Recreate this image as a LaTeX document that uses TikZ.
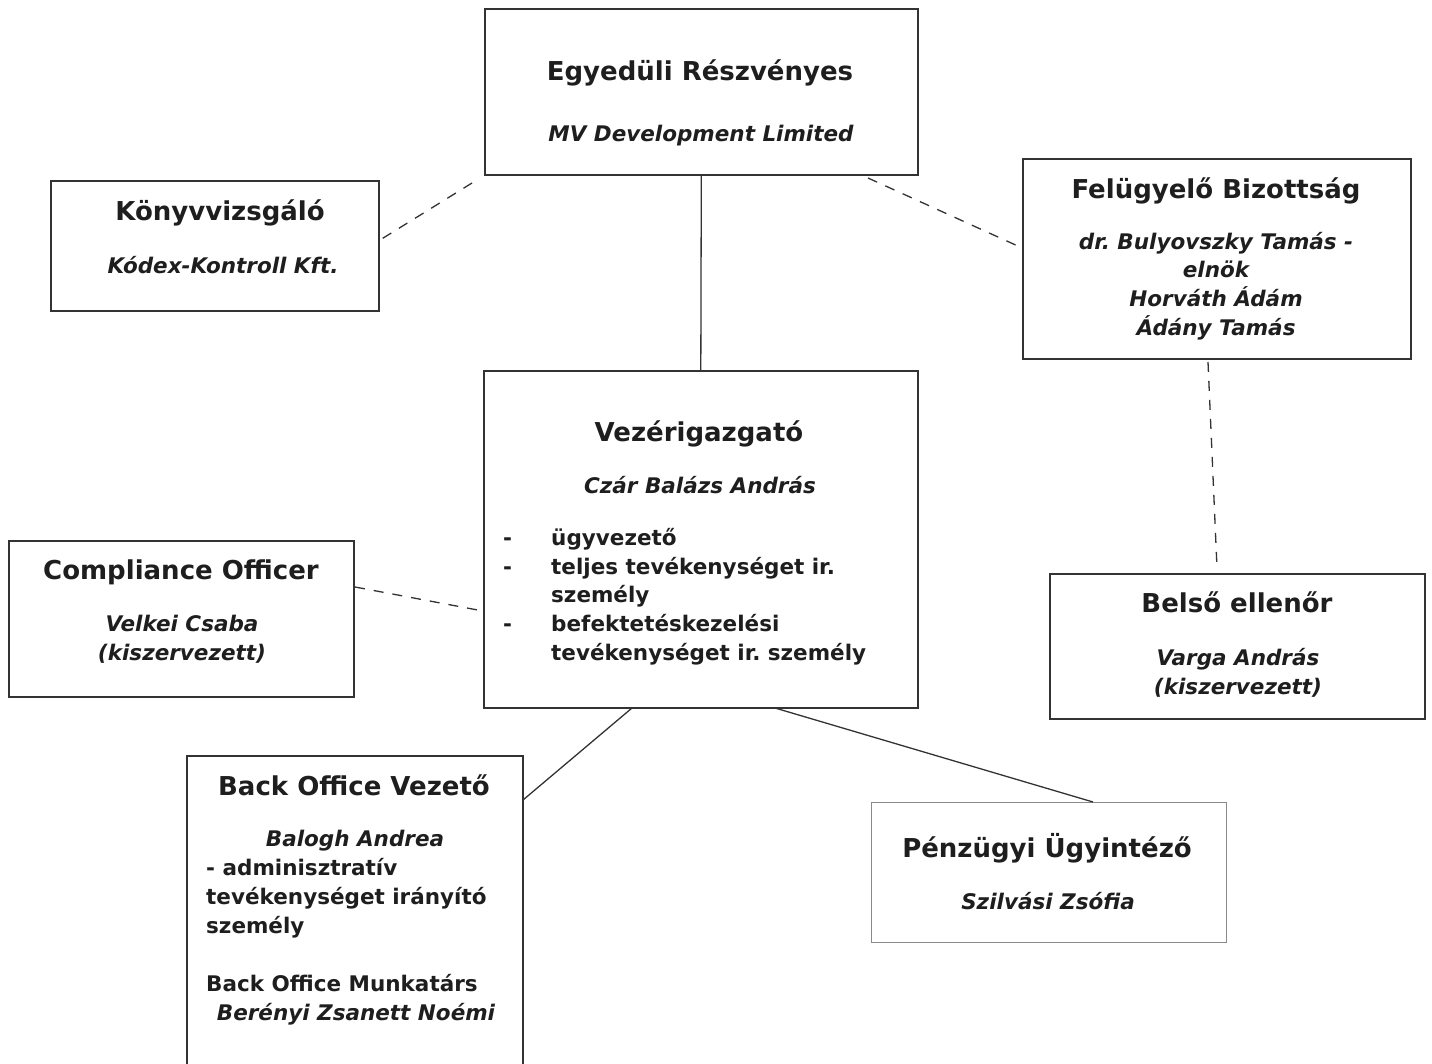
\documentclass[tikz,border=0pt]{standalone}
\usepackage{fontspec}
\setmainfont{DejaVu Sans}
\frenchspacing
\definecolor{ln}{HTML}{333333}
\definecolor{lnl}{HTML}{8A8A8A}
\definecolor{tx}{HTML}{1E1E1E}
\begin{document}
\begin{tikzpicture}[x=1pt,y=-1pt,
  box/.style={draw=ln, line width=1.6pt, inner sep=0pt, anchor=north west},
  hd/.style={font=\fontsize{26}{30}\selectfont\bfseries\frenchspacing, text=tx, inner sep=0pt, anchor=base},
  nm/.style={font=\fontsize{21.5}{29}\selectfont\bfseries\itshape\frenchspacing, text=tx, inner sep=0pt, anchor=base},
  bd/.style={font=\fontsize{21.5}{29}\selectfont\bfseries\frenchspacing, text=tx, inner sep=0pt, anchor=base west},
  link/.style={draw=ln, line width=1.3pt},
  dlink/.style={link, dash pattern=on 10pt off 9pt}]
\useasboundingbox (0,0) rectangle (1432,1064);
% boxes
\node[box, minimum width=433, minimum height=166] (top) at (484,8) {};
\node[box, minimum width=328, minimum height=130] (kv) at (50,180) {};
\node[box, minimum width=388, minimum height=200] (fb) at (1022,158) {};
\node[box, minimum width=434, minimum height=337] (vez) at (483,370) {};
\node[box, minimum width=345, minimum height=156] (co) at (8,540) {};
\node[box, minimum width=375, minimum height=145] (be) at (1049,573) {};
\node[box, minimum width=336, minimum height=315] (bo) at (186,755) {};
\node[box, draw=lnl, line width=1.3pt, minimum width=355, minimum height=140] (pu) at (871,802) {};
% top
\node[hd] (t1) at (700,81) {Egyedüli Részvényes};
\node[nm] (t2) at (701,142) {MV Development Limited};
% konyvvizsgalo
\node[hd] (k1) at (220,221) {Könyvvizsgáló};
\node[nm] (k2) at (223,274) {Kódex-Kontroll Kft.};
% felugyelo
\node[hd] (f1) at (1216,199) {Felügyelő Bizottság};
\node[nm] (f2) at (1216,250) {dr.\ Bulyovszky Tamás -};
\node[nm] (f3) at (1216,278) {elnök};
\node[nm] (f4) at (1216,307) {Horváth Ádám};
\node[nm] (f5) at (1216,336) {Ádány Tamás};
% vezerigazgato
\node[hd] (v1) at (699,441) {Vezérigazgató};
\node[nm] (v2) at (700,493) {Czár Balázs András};
\node[bd] (vd1) at (503,545) {-};
\node[bd] (vd2) at (503,574) {-};
\node[bd] (vd3) at (503,631) {-};
\node[bd] (v3) at (551,545) {ügyvezető};
\node[bd] (v4) at (551,574) {teljes tevékenységet ir.};
\node[bd] (v5) at (551,602) {személy};
\node[bd] (v6) at (551,631) {befektetéskezelési};
\node[bd] (v7) at (551,660) {tevékenységet ir.\ személy};
% compliance
\node[hd] (c1) at (181,579) {Compliance Officer};
\node[nm] (c2) at (182,631) {Velkei Csaba};
\node[nm] (c3) at (182,660) {(kiszervezett)};
% belso
\node[hd] (b1) at (1237,612) {Belső ellenőr};
\node[nm] (b2) at (1238,665) {Varga András};
\node[nm] (b3) at (1238,694) {(kiszervezett)};
% back office
\node[hd] (o1) at (354,795) {Back Office Vezető};
\node[nm] (o2) at (355,846) {Balogh Andrea};
\node[bd] (o3) at (206,875) {- adminisztratív};
\node[bd] (o4) at (206,904) {tevékenységet irányító};
\node[bd] (o5) at (206,933) {személy};
\node[bd] (o6) at (206,991) {Back Office Munkatárs};
\node[nm] (o7) at (356,1020) {Berényi Zsanett Noémi};
% penzugyi
\node[hd] (p1) at (1047,857) {Pénzügyi Ügyintéző};
\node[nm] (p2) at (1048,909) {Szilvási Zsófia};
% connectors
\coordinate (kvs) at (472,183);
\coordinate (kve) at (380,240);
\coordinate (fbs) at (868,178);
\coordinate (fbe) at (1020,247);
\coordinate (fbb) at (1208,362);
\coordinate (bet) at (1217,568);
\coordinate (coe) at (355,587);
\coordinate (vzl) at (483,611);
\coordinate (vzb1) at (632,708);
\coordinate (bor) at (523,800);
\coordinate (vzb2) at (775,708);
\coordinate (put) at (1093,802);
\draw[link] (top.south) -- (vez.north);
\draw[dlink] (kvs) -- (kve);
\draw[dlink] (fbs) -- (fbe);
\draw[dlink] (fbb) -- (bet);
\draw[dlink] (coe) -- (vzl);
\draw[link] (vzb1) -- (bor);
\draw[link] (vzb2) -- (put);
\end{tikzpicture}
\end{document}
